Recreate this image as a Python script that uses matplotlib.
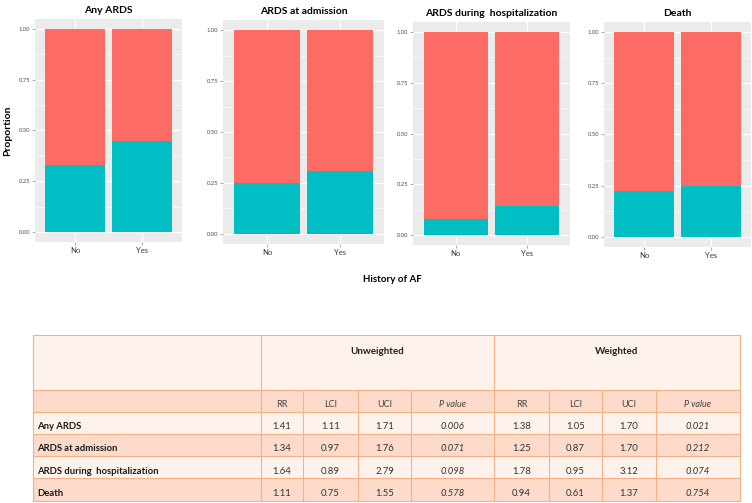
import matplotlib
matplotlib.use("Agg")
import matplotlib.pyplot as plt
from matplotlib.patches import Rectangle

W, H = 752, 503
plt.rcParams['font.family'] = ['Lato', 'DejaVu Sans']

# ---- data ----
panel_titles = ["Any ARDS", "ARDS at admission", "ARDS during  hospitalization", "Death"]
categories = ["No", "Yes"]
prop_outcome = [
    [0.33, 0.45],
    [0.25, 0.31],
    [0.08, 0.14],
    [0.225, 0.25],
]
yticks = [0.0, 0.25, 0.5, 0.75, 1.0]
ytick_labels = ["0.00", "0.25", "0.50", "0.75", "1.00"]

row_labels = ["Any ARDS", "ARDS at admission", "ARDS during  hospitalization", "Death"]
group_labels = ["Unweighted", "Weighted"]
sub_labels = ["RR", "LCI", "UCI", "P value"]
unw_rr = ["1.41", "1.34", "1.64", "1.11"]
unw_lci = ["1.11", "0.97", "0.89", "0.75"]
unw_uci = ["1.71", "1.76", "2.79", "1.55"]
unw_p = ["0.006", "0.071", "0.098", "0.578"]
w_rr = ["1.38", "1.25", "1.78", "0.94"]
w_lci = ["1.05", "0.87", "0.95", "0.61"]
w_uci = ["1.70", "1.70", "3.12", "1.37"]
w_p = ["0.021", "0.212", "0.074", "0.754"]

RED = "#FD6C64"
TEAL = "#00BEC4"

fig = plt.figure(figsize=(W / 100, H / 100), dpi=100)


def px_axes(left, top, right, bottom):
    return fig.add_axes([left / W, 1 - bottom / H, (right - left) / W, (bottom - top) / H])


panel_boxes = [(35, 19, 182, 242), (223, 20, 384, 244), (413, 22, 570, 245), (604, 22, 751, 247)]
xpos = [1, 2]
for box, title, vals in zip(panel_boxes, panel_titles, prop_outcome):
    ax = px_axes(*box)
    ax.set_facecolor("#EBEBEB")
    ax.set_xlim(0.4, 2.6)
    ax.set_ylim(-0.05, 1.05)
    ax.bar(xpos, vals, width=0.9, color=TEAL, zorder=3)
    ax.bar(xpos, [1 - v for v in vals], bottom=vals, width=0.9, color=RED, zorder=3)
    ax.set_yticks(yticks)
    ax.set_yticklabels(ytick_labels)
    ax.set_yticks([0.125, 0.375, 0.625, 0.875], minor=True)
    ax.set_xticks(xpos)
    ax.set_xticklabels(categories)
    ax.grid(True, which="major", color="white", linewidth=0.9, zorder=1)
    ax.grid(True, which="minor", axis="y", color="white", linewidth=0.45, zorder=1)
    ax.set_axisbelow(True)
    for s in ax.spines.values():
        s.set_visible(False)
    ax.tick_params(axis="y", which="major", labelsize=4.2, labelcolor="#4D4D4D", color="#888888",
                   length=2, width=0.5, pad=1.5)
    ax.tick_params(axis="y", which="minor", length=0)
    ax.tick_params(axis="x", labelsize=5.5, labelcolor="#333333", color="#888888",
                   length=2, width=0.5, pad=1.5)
    ax.set_title(title, fontsize=7.5, fontweight="bold", pad=4)

fig.text(8 / W, 1 - 131 / H, "Proportion", rotation=90, ha="center", va="center",
         fontsize=7.5, fontweight="bold")
fig.text(392 / W, 1 - 279 / H, "History of AF", ha="center", va="center",
         fontsize=7, fontweight="bold")

# ---- table ----
tax = fig.add_axes([0, 0, 1, 1])
tax.set_xlim(0, W)
tax.set_ylim(H, 0)
tax.axis("off")

LIGHT = "#FEF2EC"
DARK = "#FCDBCB"
LINE = "#F4B183"

cols = [33, 261, 303, 358, 411, 494, 549, 602, 656, 740]
rows = [335, 390, 412, 434, 456, 478, 501]
row_fill = [LIGHT, DARK, LIGHT, DARK, LIGHT, DARK]
for i in range(6):
    tax.add_patch(Rectangle((cols[0], rows[i]), cols[-1] - cols[0], rows[i + 1] - rows[i],
                            facecolor=row_fill[i], edgecolor="none", zorder=1))
# horizontal lines
for y in rows:
    tax.plot([cols[0], cols[-1]], [y, y], color=LINE, lw=0.8, zorder=2)
# vertical lines
for x in [cols[0], cols[1], cols[5], cols[-1]]:
    tax.plot([x, x], [rows[0], rows[-1]], color=LINE, lw=0.8, zorder=2)
for x in [cols[2], cols[3], cols[4], cols[6], cols[7], cols[8]]:
    tax.plot([x, x], [rows[1], rows[-1]], color=LINE, lw=0.8, zorder=2)

tfs = 6.8
tax.text((cols[1] + cols[5]) / 2, 352, group_labels[0], ha="center", va="center",
         fontsize=7.1, fontweight="bold", color="#222222")
tax.text((cols[5] + cols[9]) / 2, 352, group_labels[1], ha="center", va="center",
         fontsize=7.1, fontweight="bold", color="#222222")
for g in range(2):
    for j, lab in enumerate(sub_labels):
        c0 = cols[1 + 4 * g + j]
        c1 = cols[2 + 4 * g + j]
        tax.text((c0 + c1) / 2, 404.5, lab, ha="center", va="center", fontsize=tfs - 0.3,
                 color="#444444", style="italic" if j == 3 else "normal")

data_cols = [unw_rr, unw_lci, unw_uci, unw_p, w_rr, w_lci, w_uci, w_p]
row_text_y = [426.5, 448.5, 471, 493]
for r, lab in enumerate(row_labels):
    y = row_text_y[r]
    tax.text(37, y, lab, ha="left", va="center", fontsize=tfs, fontweight="bold", color="#1A1A1A")
    for k, col in enumerate(data_cols):
        c0 = cols[1 + k]
        c1 = cols[2 + k]
        tax.text((c0 + c1) / 2, y, col[r], ha="center", va="center", fontsize=tfs,
                 color="#333333", style="italic" if k in (3, 7) else "normal")

fig.savefig("out.png", dpi=100)
